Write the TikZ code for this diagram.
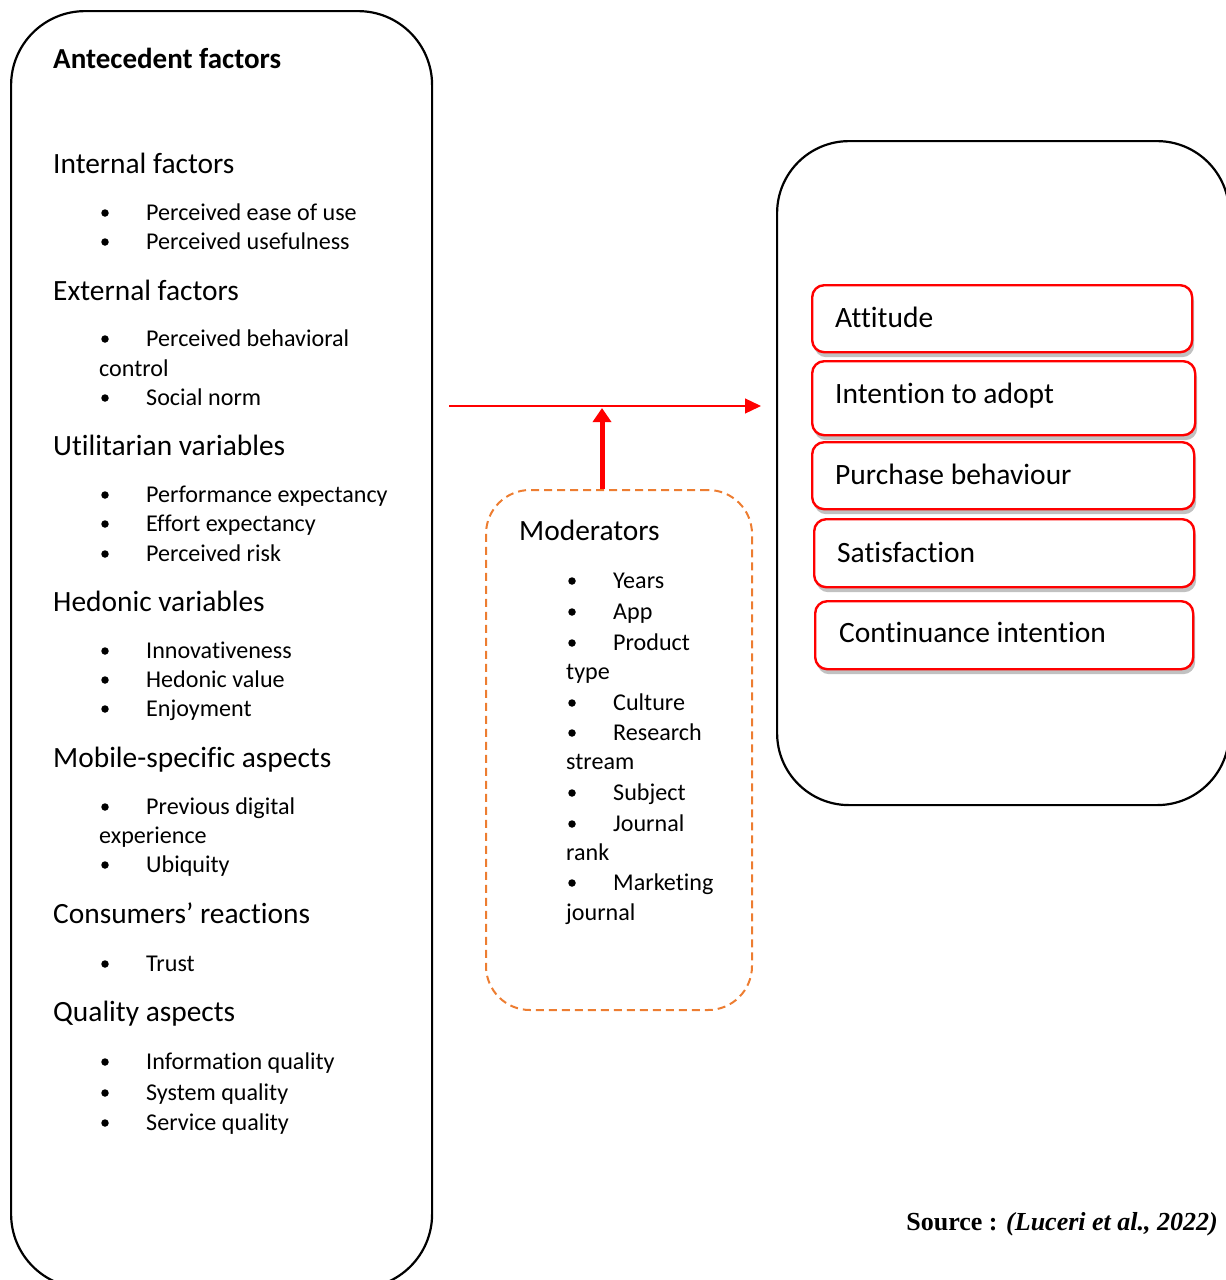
\documentclass[tikz,border=0pt]{standalone}
\usepackage{fontspec}
\setmainfont[Ligatures=NoCommon]{Carlito}
\newfontfamily\srcfont{Liberation Serif}
\usetikzlibrary{shadows,arrows.meta}
\definecolor{modorange}{RGB}{237,125,49}
\definecolor{boxred}{RGB}{255,0,0}
\begin{document}
\begin{tikzpicture}[x=1pt,y=-1pt,
  bigbox/.style={draw=black,line width=2.2pt,rounded corners=74pt,anchor=north west,inner sep=0pt},
  modbox/.style={draw=modorange,line width=2pt,dash pattern=on 8pt off 5pt,rounded corners=44pt,anchor=north west,inner sep=0pt},
  outbox/.style={draw=boxred,line width=2.4pt,fill=white,rounded corners=12pt,anchor=north west,inner sep=0pt,
     drop shadow={shadow xshift=2pt,shadow yshift=-5pt,opacity=0.35,fill=black!70}},
  head/.style={anchor=base west,inner sep=0pt,font=\fontsize{29.4}{32}\selectfont},
  title/.style={anchor=base west,inner sep=0pt,font=\fontsize{29}{32}\selectfont\bfseries},
  item/.style={anchor=base west,inner sep=0pt,font=\fontsize{24.1}{26}\selectfont},
  outtext/.style={anchor=base west,inner sep=0pt,font=\fontsize{29.5}{32}\selectfont},
  bul/.style={circle,fill=black,inner sep=0pt,minimum size=7.5pt},
  src/.style={anchor=base east,inner sep=0pt,font=\fontsize{26}{30}\srcfont\bfseries},
  thinarrow/.style={draw=boxred,line width=1.3pt,-{Triangle[length=16pt,width=15pt]}},
  thickarrow/.style={draw=boxred,line width=5pt,-{Triangle[length=14pt,width=18pt]}}
]
\useasboundingbox (0,0) rectangle (1226,1280);
\clip (0,0) rectangle (1226,1280);

% left box
\node[bigbox,minimum width=421pt,minimum height=1277pt] (ante) at (10,10) {};
\node[title] (t0) at (53,68) {Antecedent factors};

\node[head] (h1) at (53,173) {Internal factors};
\node[bul] (b11) at (105,213) {}; \node[item] (i11) at (146,220) {Perceived ease of use};
\node[bul] (b12) at (105,242) {}; \node[item] (i12) at (146,249) {Perceived usefulness};

\node[head] (h2) at (53,300) {External factors};
\node[bul] (b21) at (105,339) {}; \node[item] (i21) at (146,346) {Perceived behavioral};
\node[item] (i21b) at (99,376) {control};
\node[bul] (b22) at (105,398) {}; \node[item] (i22) at (146,405) {Social norm};

\node[head] (h3) at (53,455) {Utilitarian variables};
\node[bul] (b31) at (105,495) {}; \node[item] (i31) at (146,502) {Performance expectancy};
\node[bul] (b32) at (105,524) {}; \node[item] (i32) at (146,531) {Effort expectancy};
\node[bul] (b33) at (105,554) {}; \node[item] (i33) at (146,561) {Perceived risk};

\node[head] (h4) at (53,611) {Hedonic variables};
\node[bul] (b41) at (105,651) {}; \node[item] (i41) at (146,658) {Innovativeness};
\node[bul] (b42) at (105,680) {}; \node[item] (i42) at (146,687) {Hedonic value};
\node[bul] (b43) at (105,709) {}; \node[item] (i43) at (146,716) {Enjoyment};

\node[head] (h5) at (53,767) {Mobile-specific aspects};
\node[bul] (b51) at (105,807) {}; \node[item] (i51) at (146,814) {Previous digital};
\node[item] (i51b) at (99,843) {experience};
\node[bul] (b52) at (105,865) {}; \node[item] (i52) at (146,872) {Ubiquity};

\node[head] (h6) at (53,923) {Consumers’ reactions};
\node[bul] (b61) at (105,964) {}; \node[item] (i61) at (146,971) {Trust};

\node[head] (h7) at (53,1021) {Quality aspects};
\node[bul] (b71) at (105,1062) {}; \node[item] (i71) at (146,1069) {Information quality};
\node[bul] (b72) at (105,1093) {}; \node[item] (i72) at (146,1100) {System quality};
\node[bul] (b73) at (105,1123) {}; \node[item] (i73) at (146,1130) {Service quality};

% moderators
\node[modbox,minimum width=266pt,minimum height=520pt] (mod) at (485,489) {};
\node[head] (mh) at (519,540) {Moderators};
\node[bul] (m1) at (572,581) {}; \node[item] (mt1) at (613,588) {Years};
\node[bul] (m2) at (572,612) {}; \node[item] (mt2) at (613,619) {App};
\node[bul] (m3) at (572,643) {}; \node[item] (mt3) at (613,650) {Product};
\node[item] (mt3b) at (566,679) {type};
\node[bul] (m4) at (572,703) {}; \node[item] (mt4) at (613,710) {Culture};
\node[bul] (m5) at (572,733) {}; \node[item] (mt5) at (613,740) {Research};
\node[item] (mt5b) at (566,769) {stream};
\node[bul] (m6) at (572,793) {}; \node[item] (mt6) at (613,800) {Subject};
\node[bul] (m7) at (572,824) {}; \node[item] (mt7) at (613,831) {Journal};
\node[item] (mt7b) at (566,860) {rank};
\node[bul] (m8) at (572,883) {}; \node[item] (mt8) at (613,890) {Marketing};
\node[item] (mt8b) at (566,920) {journal};

% outcomes
\node[bigbox,minimum width=452pt,minimum height=664pt,rounded corners=72pt] (out) at (776,140) {};
\node[outbox,minimum width=380pt,minimum height=67pt] (o1) at (811,284) {};
\node[outtext] (o1t) at (835,327) {Attitude};
\node[outbox,minimum width=383pt,minimum height=74pt] (o2) at (811,360) {};
\node[outtext] (o2t) at (835,403) {Intention to adopt};
\node[outbox,minimum width=382pt,minimum height=67pt] (o3) at (811,441) {};
\node[outtext] (o3t) at (835,484) {Purchase behaviour};
\node[outbox,minimum width=380pt,minimum height=68pt] (o4) at (813,518) {};
\node[outtext] (o4t) at (837,562) {Satisfaction};
\node[outbox,minimum width=378pt,minimum height=68pt] (o5) at (814,600) {};
\node[outtext] (o5t) at (839,642) {Continuance intention};

% arrows
\coordinate (hs) at (449,406);
\coordinate (he) at (761,406);
\coordinate (hit) at (602,408);
\draw[thinarrow] (hs) -- (he);
\draw[thickarrow] (hit |- mod.north) -- (hit);

% source
\node[src] (source) at (1218,1230) {Source : \textit{(Luceri et al., 2022)}};
\end{tikzpicture}
\end{document}
